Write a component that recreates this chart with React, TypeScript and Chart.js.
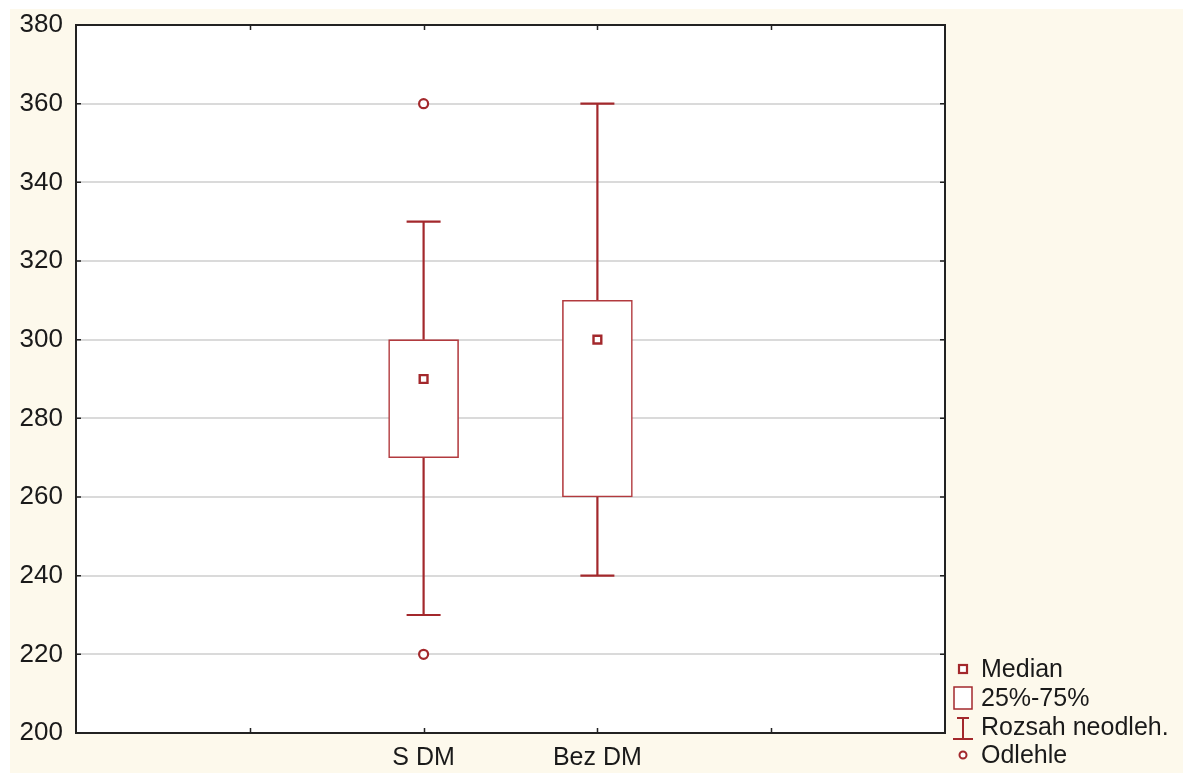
import React, { useEffect, useRef } from 'react';
import { Chart, registerables } from 'chart.js';

Chart.register(...registerables);

// ---- data ----
const categories = ['S DM', 'Bez DM'];
const categoryPositions = [2, 3];
const whiskerLow = [230, 240];
const whiskerHigh = [330, 360];
const quartile1 = [270, 260];
const quartile3 = [300, 310];
const medians = [290, 300];
const outliers: number[][] = [[220, 360], []];
const xTickPositions = [1, 2, 3, 4];
const legendLabels = ['Median', '25%-75%', 'Rozsah neodleh.', 'Odlehle'];

const RED = '#a3282c';
const FONT = '"Liberation Sans", Arial, sans-serif';

const whiskerData: { x: number; y: number | null }[] = [];
categoryPositions.forEach((x, i) => {
  whiskerData.push({ x, y: whiskerLow[i] }, { x, y: quartile1[i] }, { x, y: null });
  whiskerData.push({ x, y: quartile3[i] }, { x, y: whiskerHigh[i] }, { x, y: null });
});
const capData = categoryPositions.flatMap((x, i) => [
  { x, y: whiskerLow[i] },
  { x, y: whiskerHigh[i] },
]);
const boxData = categoryPositions.map((x, i) => ({ x, y: [quartile1[i], quartile3[i]] }));
const medianData = categoryPositions.map((x, i) => ({ x, y: medians[i] }));
const outlierData = categoryPositions.flatMap((x, i) => outliers[i].map((y) => ({ x, y })));

const framePlugin = {
  id: 'frame',
  beforeDraw(chart: any) {
    const { ctx, chartArea } = chart;
    ctx.save();
    ctx.fillStyle = '#ffffff';
    ctx.fillRect(chartArea.left, chartArea.top, chartArea.right - chartArea.left, chartArea.bottom - chartArea.top);
    ctx.restore();
  },
  afterDraw(chart: any) {
    const { ctx, chartArea } = chart;
    const { left, right, top, bottom } = chartArea;
    const xs = chart.scales.x;
    const ys = chart.scales.y;
    ctx.save();
    ctx.strokeStyle = '#222';
    ctx.lineWidth = 2;
    ctx.beginPath();
    ctx.moveTo(left, top);
    ctx.lineTo(right, top);
    ctx.lineTo(right, bottom);
    ctx.stroke();
    ctx.lineWidth = 1.5;
    ctx.beginPath();
    for (const v of xTickPositions) {
      const px = Math.round(xs.getPixelForValue(v)) + 0.5;
      ctx.moveTo(px, bottom);
      ctx.lineTo(px, bottom - 5);
      ctx.moveTo(px, top);
      ctx.lineTo(px, top + 5);
    }
    ys.ticks.forEach((t: any) => {
      const py = ys.getPixelForValue(t.value);
      ctx.moveTo(left, py);
      ctx.lineTo(left + 5, py);
      ctx.moveTo(right, py);
      ctx.lineTo(right - 5, py);
    });
    ctx.stroke();

    // legend
    const sx = right + 18;
    const tx = right + 36;
    const rows = [bottom - 64, bottom - 35, bottom - 6, bottom + 22];
    ctx.strokeStyle = RED;
    ctx.fillStyle = '#fff';
    // median square
    ctx.lineWidth = 2.2;
    ctx.fillRect(sx - 4.5, rows[0] - 4.5, 9, 9);
    ctx.strokeRect(sx - 4, rows[0] - 4, 8, 8);
    // box
    ctx.lineWidth = 1.5;
    ctx.fillRect(sx - 9, rows[1] - 11, 18, 22);
    ctx.strokeRect(sx - 9, rows[1] - 11, 18, 22);
    // whisker
    ctx.lineWidth = 2;
    ctx.beginPath();
    ctx.moveTo(sx, rows[2] - 9);
    ctx.lineTo(sx, rows[2] + 12);
    ctx.moveTo(sx - 6, rows[2] - 9);
    ctx.lineTo(sx + 6, rows[2] - 9);
    ctx.moveTo(sx - 10, rows[2] + 12);
    ctx.lineTo(sx + 10, rows[2] + 12);
    ctx.stroke();
    // outlier
    ctx.beginPath();
    ctx.arc(sx, rows[3], 3.5, 0, Math.PI * 2);
    ctx.fill();
    ctx.stroke();

    ctx.fillStyle = '#1a1a1a';
    ctx.font = `25px ${FONT}`;
    ctx.textBaseline = 'middle';
    ctx.textAlign = 'left';
    legendLabels.forEach((l, i) => ctx.fillText(l, tx, rows[i] + 1));
    ctx.restore();
  },
};

export default function App() {
  const ref = useRef<HTMLCanvasElement>(null);
  useEffect(() => {
    if (!ref.current) return;
    const chart = new Chart(ref.current, {
      type: 'scatter',
      data: {
        datasets: [
          {
            type: 'scatter',
            data: whiskerData as any,
            showLine: true,
            spanGaps: false,
            borderColor: RED,
            borderWidth: 2.2,
            pointRadius: 0,
            order: 4,
          } as any,
          {
            type: 'scatter',
            data: capData,
            pointStyle: 'line',
            pointRadius: 17,
            borderColor: RED,
            pointBorderWidth: 2.2,
            order: 4,
          } as any,
          {
            type: 'bar',
            data: boxData as any,
            backgroundColor: '#ffffff',
            borderColor: '#b23a3e',
            borderWidth: 1.6,
            borderSkipped: false,
            barThickness: 70,
            order: 3,
          } as any,
          {
            type: 'scatter',
            data: medianData,
            pointStyle: 'rect',
            pointRadius: 5.5,
            backgroundColor: '#ffffff',
            borderColor: RED,
            pointBorderWidth: 2.4,
            order: 1,
          } as any,
          {
            type: 'scatter',
            data: outlierData,
            pointStyle: 'circle',
            pointRadius: 4.5,
            backgroundColor: '#ffffff',
            borderColor: RED,
            pointBorderWidth: 2.2,
            order: 1,
          } as any,
        ],
      },
      options: {
        animation: false,
        responsive: false,
        events: [],
        layout: { autoPadding: false, padding: { left: 0, top: 16, right: 238, bottom: 0 } },
        plugins: { legend: { display: false }, tooltip: { enabled: false } },
        scales: {
          x: {
            type: 'linear',
            min: 0,
            max: 5,
            offset: false,
            grid: { display: false, offset: false, drawTicks: false },
            border: { display: true, color: '#222', width: 2 },
            afterBuildTicks: (scale: any) => {
              scale.ticks = xTickPositions.map((v) => ({ value: v }));
            },
            afterFit: (scale: any) => {
              scale.height = 40;
              scale.paddingLeft = 0;
              scale.paddingRight = 0;
            },
            ticks: {
              autoSkip: false,
              maxRotation: 0,
              padding: 10,
              color: '#1a1a1a',
              font: { family: FONT, size: 25 },
              callback: (v: any) => {
                const idx = categoryPositions.indexOf(Number(v));
                return idx >= 0 ? categories[idx] : '';
              },
            },
          },
          y: {
            type: 'linear',
            min: 200,
            max: 380,
            grid: { color: '#dadada', lineWidth: 2, drawTicks: false },
            border: { display: true, color: '#222', width: 2 },
            afterFit: (scale: any) => {
              scale.width = 66;
              scale.paddingTop = 0;
              scale.paddingBottom = 0;
            },
            ticks: {
              stepSize: 20,
              padding: 13,
              color: '#1a1a1a',
              font: { family: FONT, size: 26 },
            },
          },
        },
      } as any,
      plugins: [framePlugin],
    });
    return () => chart.destroy();
  }, []);
  return (
    <div
      style={{
        position: 'absolute',
        left: 10,
        top: 9,
        width: 1173,
        height: 764,
        background: '#fdf9ec',
      }}
    >
      <canvas ref={ref} width={1173} height={764} style={{ display: 'block' }} />
    </div>
  );
}
